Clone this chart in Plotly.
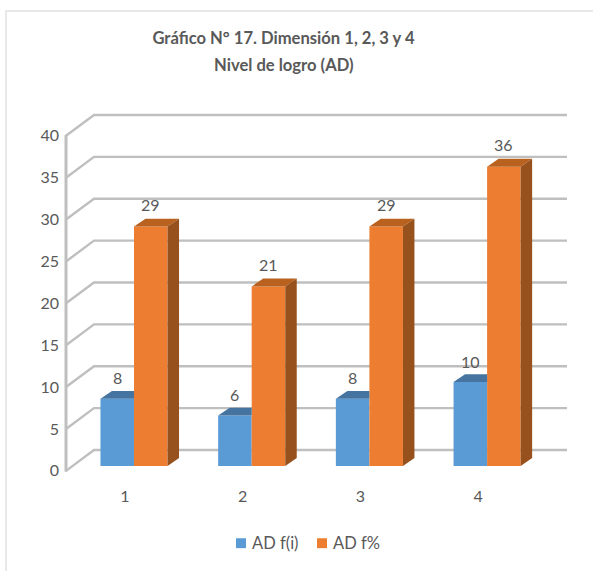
import plotly.graph_objects as go

categories = ["1", "2", "3", "4"]
fi_values = [8, 6, 8, 10]
fp_values = [28.57, 21.43, 28.57, 35.71]
fi_labels = ["8", "6", "8", "10"]
fp_labels = ["29", "21", "29", "36"]
y_ticks = [0, 5, 10, 15, 20, 25, 30, 35, 40]
series_names = ["AD f(i)", "AD f%"]
title_line = "Gráfico N° 17. Dimensión 1, 2, 3 y 4"
subtitle_line = "Nivel de logro (AD)"

W, H = 593, 571
BLUE, ORANGE = "#5B9BD5", "#ED7D31"
BLUE_TOP, ORANGE_TOP, ORANGE_SIDE = "#44749F", "#B9611F", "#97511C"
GRID, TEXT = "#BFBFBF", "#595959"
FONT = "Lato"

# pixel scale of the plot
PX_CAT, PX_UNIT = 117.7, 8.45
X0_PX, Y0_PX = 134.0, 470.0
L, R, T, B = 62, 570, 108, 479
x_range = [(L - X0_PX) / PX_CAT, (R - X0_PX) / PX_CAT]
y_range = [(Y0_PX - B) / PX_UNIT, (Y0_PX - T) / PX_UNIT]

def paper_x(px):
    return px / W

def paper_y(py):
    return 1 - py / H

GAP = 0.43
BAR_W = (1 - GAP) / 2
DX, DY = 11.5 / PX_CAT, 8 / PX_UNIT            # bar depth
FRONT_Y = -5 / PX_UNIT                         # wall corner at front
BACK_Y = 16 / PX_UNIT                          # wall corner at back
AX_X = (66 - X0_PX) / PX_CAT
BACK_X = (94 - X0_PX) / PX_CAT
END_X = (567 - X0_PX) / PX_CAT
xs = list(range(len(categories)))

fig = go.Figure()
fig.add_bar(x=xs, y=fi_values, name=series_names[0], marker=dict(color=BLUE, line_width=0), hoverinfo="y")
fig.add_bar(x=xs, y=fp_values, name=series_names[1], marker=dict(color=ORANGE, line_width=0), hoverinfo="y")

shapes = []
# perspective grid
for v in y_ticks:
    shapes.append(dict(type="path", xref="x", yref="y", layer="below",
                       path=f"M{AX_X},{v + FRONT_Y} L{BACK_X},{v + BACK_Y} L{END_X},{v + BACK_Y}",
                       line=dict(color=GRID, width=2.4)))
shapes.append(dict(type="line", xref="x", yref="y", layer="below",
                   x0=AX_X, x1=AX_X, y0=y_ticks[0] + FRONT_Y - 0.1, y1=y_ticks[-1] + FRONT_Y + 0.1,
                   line=dict(color=GRID, width=3)))

def poly(pts, color):
    path = "M" + " L".join(f"{a},{b}" for a, b in pts) + " Z"
    return dict(type="path", xref="x", yref="y", layer="above", path=path,
                fillcolor=color, line=dict(width=0))

for i, (a, b) in enumerate(zip(fi_values, fp_values)):
    # top of blue bar, hidden behind the orange one on its right
    shapes.append(poly([(i - BAR_W, a), (i - BAR_W + DX, a + DY), (i, a + DY), (i, a)], BLUE_TOP))
    # top and side of orange bar
    shapes.append(poly([(i, b), (i + DX, b + DY), (i + BAR_W + DX, b + DY), (i + BAR_W, b)], ORANGE_TOP))
    shapes.append(poly([(i + BAR_W, 0), (i + BAR_W + DX, DY), (i + BAR_W + DX, b + DY), (i + BAR_W, b)], ORANGE_SIDE))

annotations = []
for i in xs:
    annotations.append(dict(x=i - BAR_W / 2, y=fi_values[i], text=fi_labels[i], showarrow=False,
                            yanchor="middle", yshift=21, font=dict(family=FONT, size=16, color=TEXT)))
    annotations.append(dict(x=i + BAR_W / 2, y=fp_values[i], text=fp_labels[i], showarrow=False,
                            yanchor="middle", yshift=22, font=dict(family=FONT, size=16, color=TEXT)))
annotations.append(dict(xref="paper", yref="paper", x=paper_x(283.5), y=paper_y(66), yanchor="middle",
                        text=f"<b>{subtitle_line}</b>", showarrow=False,
                        font=dict(family=FONT, size=16.6, color=TEXT)))

# compact legend: square swatch close to its text
for name, color, sq_px in zip(series_names, [BLUE, ORANGE], [236, 317]):
    shapes.append(dict(type="rect", xref="paper", yref="paper", layer="above",
                       x0=paper_x(sq_px), x1=paper_x(sq_px + 10), y0=paper_y(553), y1=paper_y(543),
                       fillcolor=color, line=dict(width=0)))
    annotations.append(dict(xref="paper", yref="paper", x=paper_x(sq_px + 14), y=paper_y(548), text=name,
                            xanchor="left", yanchor="middle", showarrow=False,
                            font=dict(family=FONT, size=16.5, color=TEXT)))

# chart frame
shapes.append(dict(type="path", xref="paper", yref="paper", layer="below",
                   path=f"M{paper_x(6)},{paper_y(H + 5)} L{paper_x(6)},{paper_y(11)} L{paper_x(W + 5)},{paper_y(11)}",
                   line=dict(color="#E8E8E8", width=2)))

fig.update_layout(
    width=W, height=H, autosize=False,
    margin=dict(l=0, r=0, t=0, b=0),
    paper_bgcolor="white", plot_bgcolor="rgba(0,0,0,0)",
    barmode="group", bargap=GAP, bargroupgap=0, showlegend=False,
    shapes=shapes, annotations=annotations,
    font=dict(family=FONT, color=TEXT),
    title=dict(text=f"<b>{title_line}</b>", x=283.5 / W, xanchor="center", y=1 - 38 / H, yanchor="middle",
               font=dict(family=FONT, size=16.6, color=TEXT)),
    xaxis=dict(domain=[L / W, R / W], range=x_range, tickvals=[i - 9 / PX_CAT for i in xs], ticktext=categories,
               showgrid=False, zeroline=False, showline=False, ticks="", ticklabelstandoff=10,
               tickfont=dict(family=FONT, size=16, color=TEXT)),
    yaxis=dict(domain=[1 - B / H, 1 - T / H], range=y_range, tickvals=[v + FRONT_Y for v in y_ticks],
               ticktext=[str(v) for v in y_ticks],
               showgrid=False, zeroline=False, showline=False, ticks="", ticklabelstandoff=2,
               tickfont=dict(family=FONT, size=16, color=TEXT)),
)
fig.write_html("out.html", config={"displayModeBar": False}, post_script="document.body.style.margin='0';")
